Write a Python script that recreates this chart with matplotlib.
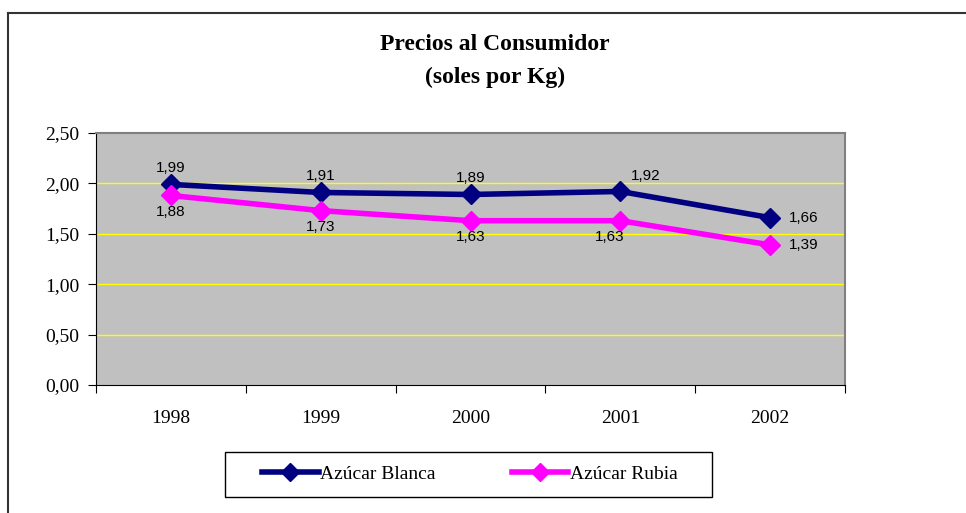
import matplotlib.pyplot as plt
from matplotlib.lines import Line2D
from matplotlib.patches import Rectangle
from matplotlib.ticker import FuncFormatter

years = ["1998", "1999", "2000", "2001", "2002"]
blanca = [1.99, 1.91, 1.89, 1.92, 1.66]
rubia = [1.88, 1.73, 1.63, 1.63, 1.39]

# label offsets in points (dx, dy)
blanca_off = [(0, 12), (0, 12), (0, 12), (18, 11), (24, 0)]
rubia_off = [(0, -12), (0, -12), (0, -12), (-8, -12), (24, 0)]

serif = "Liberation Serif"
sans = "Liberation Sans"
W, H = 966, 513


def fmt(v):
    return f"{v:.2f}".replace(".", ",")


fig = plt.figure(figsize=(W / 100, H / 100), dpi=100)
# outer chart border: only left and top visible
fig.lines.append(Line2D([7.5 / W, 7.5 / W], [0, 1 - 12.5 / H], transform=fig.transFigure,
                        color="#333333", linewidth=1.5))
fig.lines.append(Line2D([7.5 / W, 1], [1 - 12.5 / H, 1 - 12.5 / H], transform=fig.transFigure,
                        color="#333333", linewidth=1.5))

ax = fig.add_axes([96 / W, 128 / H, 749 / W, 252 / H])
ax.set_facecolor("#c0c0c0")
x = list(range(len(years)))

for yv in [0.5, 1.0, 1.5, 2.0]:
    ax.axhline(yv, color="#ffff00", linewidth=1.0, zorder=1)

ax.plot(x, blanca, color="#000080", linewidth=4, marker="D", markersize=10,
        zorder=3, label="Azúcar Blanca")
ax.plot(x, rubia, color="#ff00ff", linewidth=4, marker="D", markersize=10,
        zorder=3, label="Azúcar Rubia")

for xi, v, off in zip(x, blanca, blanca_off):
    ax.annotate(fmt(v), (xi, v), xytext=off, textcoords="offset points",
                ha="center", va="center", fontsize=11, family=sans)
for xi, v, off in zip(x, rubia, rubia_off):
    ax.annotate(fmt(v), (xi, v), xytext=off, textcoords="offset points",
                ha="center", va="center", fontsize=11, family=sans)

ax.set_xlim(-0.5, len(years) - 0.5)
ax.set_ylim(0, 2.5)
ax.set_yticks([0, 0.5, 1.0, 1.5, 2.0, 2.5])
ax.yaxis.set_major_formatter(FuncFormatter(lambda v, p: fmt(v)))
ax.set_xticks([i - 0.5 for i in range(len(years) + 1)])
ax.set_xticklabels([])
ax.set_xticks(x, minor=True)
ax.set_xticklabels(years, minor=True)
ax.tick_params(axis="x", which="minor", length=0, pad=18)
ax.tick_params(axis="x", which="major", length=6, direction="out")
ax.tick_params(axis="y", length=6, direction="out", pad=6)
for lab in ax.get_yticklabels() + ax.get_xticklabels(minor=True):
    lab.set_family(serif)
    lab.set_fontsize(14)

for side in ["left", "bottom"]:
    ax.spines[side].set_color("black")
for side in ["top", "right"]:
    ax.spines[side].set_color("#808080")
    ax.spines[side].set_linewidth(1.5)

fig.text(495 / W, 1 - 45 / H, "Precios al Consumidor", ha="center", va="center",
         fontsize=17, fontweight="bold", family=serif)
fig.text(495 / W, 1 - 77 / H, "(soles por Kg)", ha="center", va="center",
         fontsize=17, fontweight="bold", family=serif)

# legend frame drawn separately for exact placement
fig.patches.append(Rectangle((225 / W, 1 - 497 / H), 487 / W, 45 / H,
                             transform=fig.transFigure, fill=False,
                             edgecolor="black", linewidth=1.0))
leg = fig.legend(loc="center", bbox_to_anchor=(470 / W, 1 - 474 / H), ncol=2,
                 frameon=False, prop={"family": serif, "size": 14},
                 handlelength=2.9, columnspacing=3.9, handletextpad=0.1)
for h in leg.legend_handles:
    h.set_markersize(9)

fig.savefig("out.png", dpi=100)
